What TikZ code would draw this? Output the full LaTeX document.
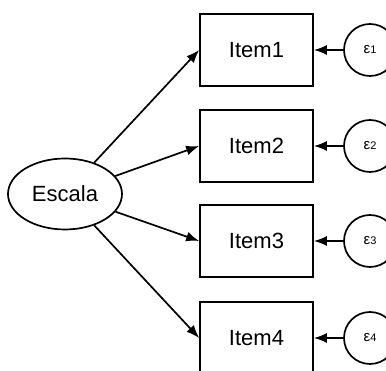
\documentclass[tikz,border=0pt]{standalone}
\usepackage{fontspec}
\setmainfont{Liberation Sans}
\usetikzlibrary{arrows.meta,shapes.geometric}

\newcommand{\errlabel}[1]{\raisebox{-3pt}{ε{\fontsize{11}{12}\selectfont #1}}\hspace{4pt}}

\begin{document}
\begin{tikzpicture}[x=1pt, y=1pt,
    item/.style={draw, line width=1.7pt, minimum width=113pt, minimum height=72pt, inner sep=0pt, font=\fontsize{22}{24}\selectfont},
    latent/.style={draw, ellipse, line width=1.7pt, minimum width=114pt, minimum height=71pt, inner sep=0pt, font=\fontsize{22}{24}\selectfont},
    err/.style={draw, circle, line width=1.7pt, minimum size=52pt, inner sep=0pt, font=\fontsize{15}{16}\selectfont},
    loading/.style={-{Latex[length=13pt,width=10pt]}, line width=1.7pt}]
    \useasboundingbox (0,0) rectangle (386,371);

    % Latent factor
    \node[latent] (escala) at (65,177) {Escala};

    % Observed items
    \node[item] (item1) at (256.5,321) {Item1};
    \node[item] (item2) at (256.5,225) {Item2};
    \node[item] (item3) at (256.5,130) {Item3};
    \node[item] (item4) at (256.5,33) {Item4};

    % Error terms
    \node[err] (e1) at (370,321) {\errlabel{1}};
    \node[err] (e2) at (370,225) {\errlabel{2}};
    \node[err] (e3) at (370,130) {\errlabel{3}};
    \node[err] (e4) at (370,33) {\errlabel{4}};

    % Loadings
    \draw[loading] (escala) -- (item1.west);
    \draw[loading] (escala) -- (item2.west);
    \draw[loading] (escala) -- (item3.west);
    \draw[loading] (escala) -- (item4.west);

    % Errors to items
    \draw[loading] (e1) -- (item1);
    \draw[loading] (e2) -- (item2);
    \draw[loading] (e3) -- (item3);
    \draw[loading] (e4) -- (item4);
\end{tikzpicture}
\end{document}
